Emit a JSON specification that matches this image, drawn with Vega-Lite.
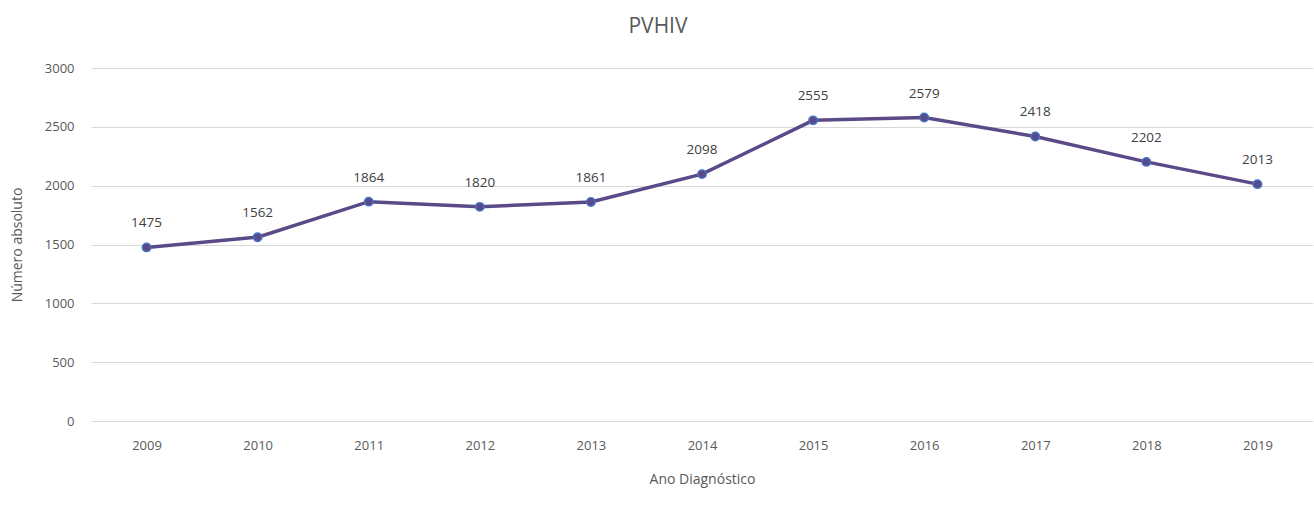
{
  "$schema": "https://vega.github.io/schema/vega-lite/v6.json",
  "autosize": "none",
  "width": 1222,
  "height": 353,
  "padding": {"left": 91, "top": 68, "right": 1, "bottom": 91},
  "background": "white",
  "title": {
    "text": "PVHIV",
    "fontSize": 21,
    "font": "Open Sans",
    "fontWeight": "normal",
    "color": "#595959",
    "anchor": "middle",
    "dx": -44,
    "offset": 25
  },
  "data": {
    "values": [
      {"ano": "2009", "n": 1475},
      {"ano": "2010", "n": 1562},
      {"ano": "2011", "n": 1864},
      {"ano": "2012", "n": 1820},
      {"ano": "2013", "n": 1861},
      {"ano": "2014", "n": 2098},
      {"ano": "2015", "n": 2555},
      {"ano": "2016", "n": 2579},
      {"ano": "2017", "n": 2418},
      {"ano": "2018", "n": 2202},
      {"ano": "2019", "n": 2013}
    ]
  },
  "encoding": {
    "x": {
      "field": "ano",
      "type": "ordinal",
      "scale": {"type": "point", "padding": 0.5},
      "axis": {
        "title": "Ano Diagnóstico",
        "titleFont": "Open Sans",
        "titleFontSize": 14,
        "titleFontWeight": "normal",
        "titleColor": "#595959",
        "titlePadding": 20,
        "labelFont": "Open Sans",
        "labelFontSize": 13,
        "labelColor": "#595959",
        "labelAngle": 0,
        "labelPadding": 18,
        "domain": false,
        "ticks": false,
        "grid": false
      }
    },
    "y": {
      "field": "n",
      "type": "quantitative",
      "scale": {"domain": [0, 3000], "nice": false},
      "axis": {
        "title": "Número absoluto",
        "titleFont": "Open Sans",
        "titleFontSize": 14,
        "titleFontWeight": "normal",
        "titleColor": "#595959",
        "titlePadding": 20,
        "values": [0, 500, 1000, 1500, 2000, 2500, 3000],
        "format": "d",
        "labelFont": "Open Sans",
        "labelFontSize": 13,
        "labelColor": "#595959",
        "labelPadding": 17,
        "domain": false,
        "ticks": false,
        "gridColor": "#d9d9d9",
        "gridWidth": 1
      }
    }
  },
  "layer": [
    {
      "mark": {"type": "line", "color": "#5B4A88", "strokeWidth": 3.5}
    },
    {
      "mark": {"type": "point", "filled": true, "fill": "#5B4A88", "stroke": "#4472C4", "strokeWidth": 1.5, "size": 70, "opacity": 1}
    },
    {
      "mark": {"type": "text", "dy": -24, "font": "Open Sans", "fontSize": 13.5, "color": "#404040"},
      "encoding": {"text": {"field": "n", "type": "quantitative", "format": "d"}}
    }
  ],
  "config": {"view": {"stroke": null}}
}
